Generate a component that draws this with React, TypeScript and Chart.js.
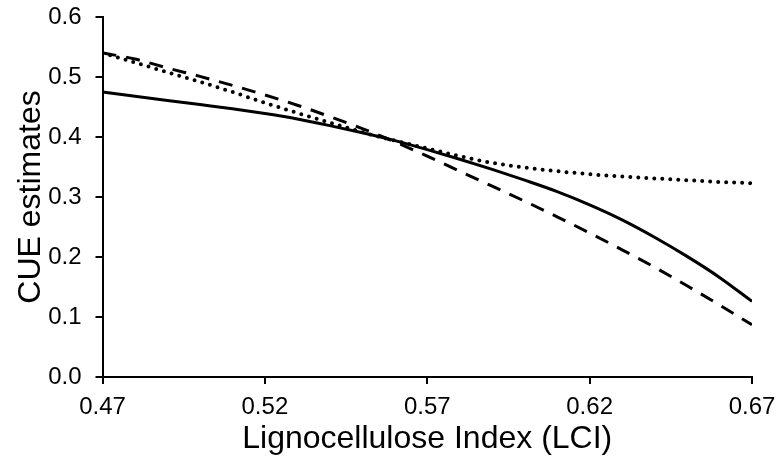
import React, { useEffect, useRef } from "react";
import { Chart, registerables } from "chart.js";

Chart.register(...registerables);

const lciValues = [0.47, 0.48, 0.49, 0.5, 0.51, 0.52, 0.53, 0.54, 0.55, 0.56, 0.57, 0.58, 0.59, 0.6, 0.61, 0.62, 0.63, 0.64, 0.65, 0.66, 0.67];
const solidSeries = [0.475, 0.468, 0.461, 0.454, 0.447, 0.439, 0.43, 0.419, 0.407, 0.394, 0.379, 0.363, 0.346, 0.328, 0.309, 0.287, 0.262, 0.233, 0.201, 0.166, 0.126];
const dashedSeries = [0.54, 0.53, 0.515, 0.501, 0.486, 0.47, 0.453, 0.434, 0.414, 0.392, 0.368, 0.343, 0.318, 0.293, 0.267, 0.24, 0.212, 0.183, 0.152, 0.12, 0.087];
const dottedSeries = [0.54, 0.524, 0.508, 0.492, 0.475, 0.457, 0.44, 0.424, 0.408, 0.394, 0.381, 0.368, 0.357, 0.349, 0.343, 0.338, 0.334, 0.331, 0.328, 0.325, 0.323];
const xTicks = [0.47, 0.52, 0.57, 0.62, 0.67];
const yTicks = [0, 0.1, 0.2, 0.3, 0.4, 0.5, 0.6];

const toPoints = (ys: number[]) => lciValues.map((x, i) => ({ x, y: ys[i] }));

export default function App() {
  const ref = useRef<HTMLCanvasElement | null>(null);
  useEffect(() => {
    if (!ref.current) return;
    const font = "'Liberation Sans', Arial, sans-serif";
    const chart = new Chart(ref.current, {
      type: "line",
      data: {
        datasets: [
          {
            data: toPoints(solidSeries),
            borderColor: "#000",
            borderWidth: 3,
            pointRadius: 0,
            cubicInterpolationMode: "monotone",
          },
          {
            data: toPoints(dashedSeries),
            borderColor: "#000",
            borderWidth: 3,
            borderDash: [14, 10],
            pointRadius: 0,
            cubicInterpolationMode: "monotone",
          },
          {
            data: toPoints(dottedSeries),
            borderColor: "#000",
            borderWidth: 4,
            borderDash: [0, 8],
            borderCapStyle: "round",
            pointRadius: 0,
            cubicInterpolationMode: "monotone",
          },
        ],
      },
      options: {
        responsive: false,
        animation: false,
        layout: { padding: { left: 0, top: 17, right: 26, bottom: 0 } },
        plugins: { legend: { display: false }, tooltip: { enabled: false } },
        scales: {
          x: {
            type: "linear",
            min: 0.47,
            max: 0.67,
            afterBuildTicks: (scale: any) => {
              scale.ticks = xTicks.map((v) => ({ value: v }));
            },
            afterFit: (scale: any) => {
              scale.height = 84;
              scale.paddingLeft = 0;
              scale.paddingRight = 0;
            },
            grid: { drawOnChartArea: false, drawTicks: true, tickLength: 7, color: "#000", lineWidth: 2 },
            border: { display: true, color: "#000", width: 2 },
            ticks: {
              color: "#000",
              font: { family: font, size: 24 },
              padding: 9,
              maxRotation: 0,
              autoSkip: false,
              callback: (v: any) => Number(v).toFixed(2),
            },
            title: {
              display: true,
              text: "Lignocellulose Index (LCI)",
              color: "#000",
              font: { family: font, size: 32 },
              padding: { top: 0, bottom: 3 },
            },
          },
          y: {
            type: "linear",
            min: 0,
            max: 0.6,
            afterBuildTicks: (scale: any) => {
              scale.ticks = yTicks.map((v) => ({ value: v }));
            },
            afterFit: (scale: any) => {
              scale.width = 102.5;
              scale.paddingTop = 0;
              scale.paddingBottom = 0;
            },
            grid: { drawOnChartArea: false, drawTicks: true, tickLength: 7, color: "#000", lineWidth: 2 },
            border: { display: true, color: "#000", width: 2 },
            ticks: {
              color: "#000",
              font: { family: font, size: 24 },
              padding: 14,
              autoSkip: false,
              callback: (v: any) => Number(v).toFixed(1),
            },
            title: {
              display: true,
              text: "CUE estimates",
              color: "#000",
              font: { family: font, size: 32 },
              padding: { top: 12, bottom: 0 },
            },
          },
        },
      },
    } as any);
    return () => chart.destroy();
  }, []);
  return (
    <div style={{ position: "fixed", left: 0, top: 0, width: 778, height: 461, background: "#fff" }}>
      <canvas ref={ref} width={778} height={461} />
    </div>
  );
}
